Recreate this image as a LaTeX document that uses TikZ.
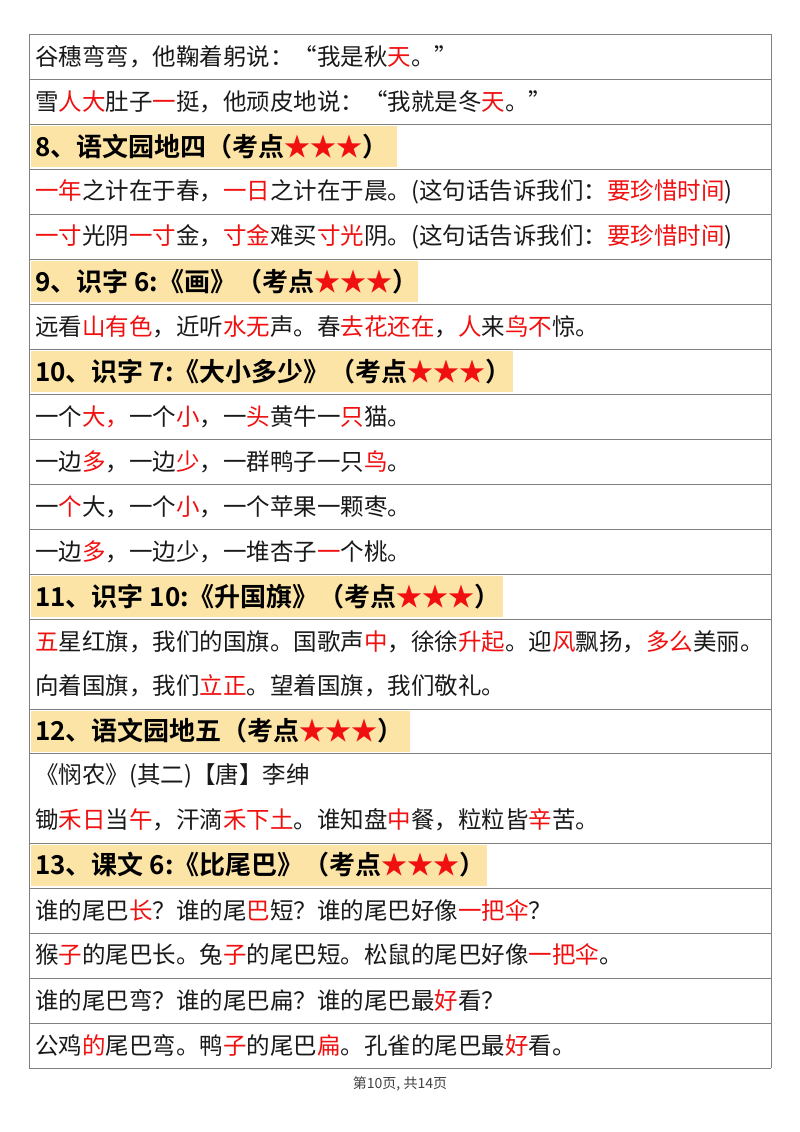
\documentclass[tikz,border=0pt]{standalone}
\usepackage{fontspec}
\setmainfont{Noto Sans CJK SC}[BoldFont={Noto Sans CJK SC Bold}]
\newfontfamily\foot{Noto Sans CJK SC}
\definecolor{hl}{HTML}{FCE4A6}
\definecolor{rd}{HTML}{F01010}
\definecolor{ln}{HTML}{808080}
\newcommand\R[1]{\textcolor{rd}{#1}}
\tikzset{x=1pt,y=-1pt,
 body/.style={anchor=west,inner sep=0pt,font=\fontsize{23.5}{26}\selectfont,text=black!90},
 head/.style={anchor=west,inner sep=0pt,font=\fontsize{26}{28}\selectfont\bfseries},
 grid/.style={draw=ln,line width=0.8pt}}
\begin{document}
\begin{tikzpicture}
\useasboundingbox (0,0) rectangle (800,1132);
% highlights
\foreach \y/\w in {126/397,261/418,351/513,576/503,711/410,845/487}
  \fill[hl] (31,\y) rectangle (\w,\y+41);
% grid
\foreach \y in {34,79,124,169,214,259,304,349,394,439,484,529,574,619,709,753,843,888,933,978,1023,1068}
  \draw[grid] (29,\y) -- (771,\y);
\draw[grid] (29,34) -- (29,1068);
\draw[grid] (771,34) -- (771,1068);
\node[body] (r1) at (35,57) {谷穗弯弯，他鞠着躬说：“我是秋\R{天}。”};
\node[body] (r2) at (35,102) {雪\R{人大}肚子\R{一}挺，他顽皮地说：“我就是冬\R{天}。”};
\node[head] (h8) at (35,147) {8、语文园地四（考点\R{★★★}）};
\node[body] (r3) at (35,192) {\R{一年}之计在于春，\R{一日}之计在于晨。(这句话告诉我们：\R{要珍惜时间})};
\node[body] (r4) at (35,237) {\R{一寸}光阴\R{一寸}金，\R{寸金}难买\R{寸光}阴。(这句话告诉我们：\R{要珍惜时间})};
\node[head] (h9) at (35,282) {9、识字 6:《画》（考点\R{★★★}）};
\node[body] (r5) at (35,327) {远看\R{山有色}，近听\R{水无}声。春\R{去花还在}，\R{人}来\R{鸟不}惊。};
\node[head] (h10) at (35,372) {10、识字 7:《大小多少》（考点\R{★★★}）};
\node[body] (r6) at (35,417) {一个\R{大，}一个\R{小}，一\R{头}黄牛一\R{只}猫。};
\node[body] (r7) at (35,462) {一边\R{多}，一边\R{少}，一群鸭子一只\R{鸟}。};
\node[body] (r8) at (35,507) {一\R{个}大，一个\R{小}，一个苹果一颗枣。};
\node[body] (r9) at (35,552) {一边\R{多}，一边少，一堆杏子\R{一}个桃。};
\node[head] (h11) at (35,597) {11、识字 10:《升国旗》（考点\R{★★★}）};
\node[body] (r10) at (35,642) {\R{五}星红旗，我们的国旗。国歌声\R{中}，徐徐\R{升起}。迎\R{风}飘扬，\R{多么}美丽。};
\node[body] (r11) at (35,686) {向着国旗，我们\R{立正}。望着国旗，我们敬礼。};
\node[head] (h12) at (35,731) {12、语文园地五（考点\R{★★★}）};
\node[body] (r12) at (35,776) {《悯农》(其二)【唐】李绅};
\node[body] (r13) at (35,820) {锄\R{禾日}当\R{午}，汗滴\R{禾下土}。谁知盘\R{中}餐，粒粒皆\R{辛}苦。};
\node[head] (h13) at (35,865) {13、课文 6:《比尾巴》（考点\R{★★★}）};
\node[body] (r14) at (35,910) {谁的尾巴\R{长}？谁的尾\R{巴}短？谁的尾巴好像\R{一把伞}？};
\node[body] (r15) at (35,955) {猴\R{子}的尾巴长。兔\R{子}的尾巴短。松鼠的尾巴好像\R{一把伞}。};
\node[body] (r16) at (35,1000) {谁的尾巴弯？谁的尾巴扁？谁的尾巴最\R{好}看？};
\node[body] (r17) at (35,1045) {公鸡\R{的}尾巴弯。鸭\R{子}的尾巴\R{扁}。孔雀的尾巴最\R{好}看。};
\node[font=\foot\fontsize{14}{16}\selectfont,text=black!75] (ft) at (400,1084) {第10页, 共14页};
\end{tikzpicture}
\end{document}
